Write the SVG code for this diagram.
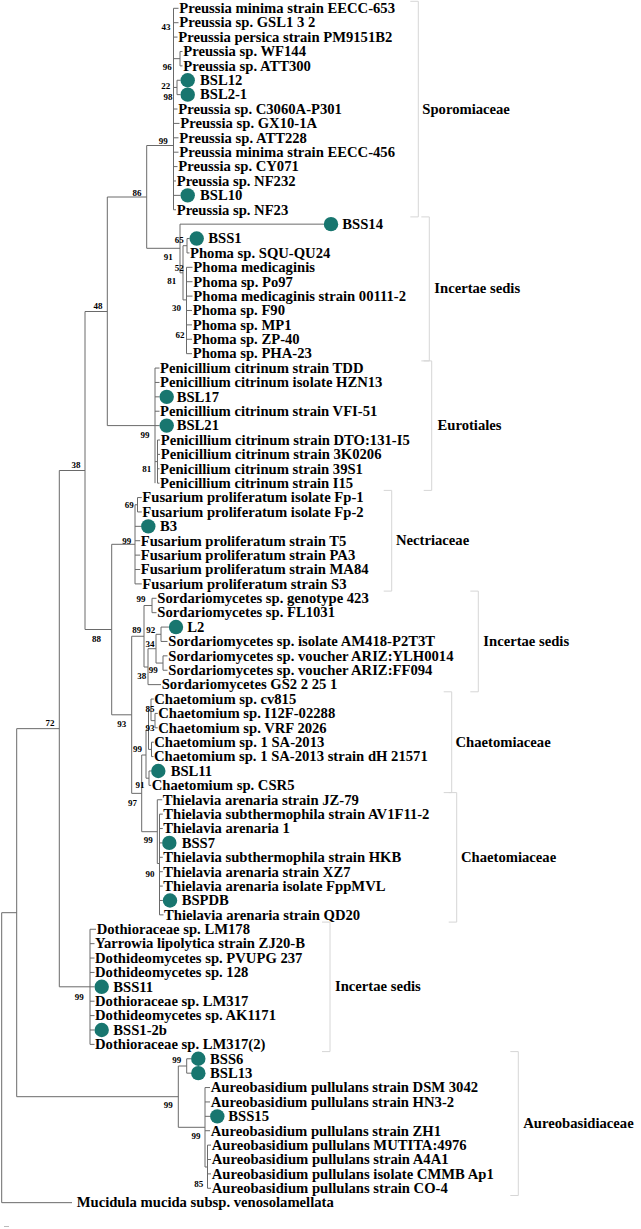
<svg xmlns="http://www.w3.org/2000/svg" width="641" height="1229" viewBox="0 0 641 1229">
<style>
.t{font-family:"Liberation Serif","Times New Roman",serif;font-weight:bold;font-size:14.65px;fill:#000}
.b{font-family:"Liberation Serif","Times New Roman",serif;font-weight:bold;font-size:9px;fill:#000;text-anchor:middle}
.tree{fill:none;stroke:#6a6a6a;stroke-width:1}
.br{fill:none;stroke:#d6d6d6;stroke-width:1}
.dot{fill:#18766f}
</style>
<rect width="641" height="1229" fill="#fff"/>
<g id="connectors" class="tree">
<path d="M1.7,912.7 V1202.67 H72 M1.7,912.7 H16.7 M16.7,728.65 V1096.7 M16.7,728.65 H59.3 M16.7,1096.7 H178.3 M59.3,470.5 V986.8 M59.3,470.5 H85 M59.3,986.8 H90 M85,311.5 V629.5 M85,311.5 H107.3 M85,629.5 H111.7 M107.3,197 V425.6 M107.3,197 H146.7 M107.3,425.6 H155 M146.7,145.5 V248.3 M146.7,145.5 H173.5 M146.7,248.3 H180"/>
<path d="M173.5,8.3 V209.76 M173.5,8.3 H178.5 M173.5,22.69 H178.5 M173.5,37.08 H177.5 M173.5,58.67 H180 M180,51.47 V65.86 M180,51.47 H182.5 M180,65.86 H182.5 M173.5,87.45 H177 M177,80.25 V94.64 M177,80.25 H180.5 M177,94.64 H180.5 M173.5,109.03 H177.5 M173.5,123.42 H179.5 M173.5,137.81 H178.5 M173.5,152.2 H178.5 M173.5,166.59 H177.5 M173.5,180.98 H176 M173.5,195.37 H180.5 M173.5,209.76 H176"/>
<path d="M180,224.15 V272.8 M180,224.15 H323.8 M180,272.8 H183 M183,245.7 V299.9 M183,245.7 H187 M187,238.54 V252.93 M187,238.54 H189.5 M187,252.93 H189.5 M183,299.9 H186.5 M186.5,267.32 V353.66 M186.5,267.32 H192.5 M186.5,281.71 H192.5 M186.5,296.1 H192.5 M186.5,310.49 H192 M186.5,324.88 H192 M186.5,339.27 H192 M186.5,353.66 H192"/>
<path d="M155,368.05 V483.17 M155,368.05 H159.5 M155,382.44 H159.5 M155,396.83 H159.5 M155,411.22 H159.5 M155,425.61 H159.5 M155,461.6 H157.5 M157.5,440 V483.17 M157.5,440 H160 M157.5,454.39 H160 M157.5,468.78 H159.5 M157.5,483.17 H159.5"/>
<path d="M111.7,544.3 V714.8 M111.7,544.3 H135 M135,504.75 V583.9 M135,504.75 H137.5 M137.5,497.56 V511.95 M137.5,497.56 H141.8 M137.5,511.95 H141.8 M135,526.34 H141.1 M135,540.73 H140.2 M135,555.12 H140.2 M135,569.51 H140.2 M135,583.9 H141.8"/>
<path d="M111.7,714.8 H131.7 M131.7,636.25 V793.35 M131.7,636.25 H144 M144,605.5 V667 M144,605.5 H152 M152,598.29 V612.68 M152,598.29 H156.5 M152,612.68 H156.5 M144,667 H148 M148,648.7 V684.63 M148,684.63 H161 M148,648.7 H156 M156,634.3 V663.05 M156,634.3 H161 M161,627.07 V641.46 M161,627.07 H168.8 M161,641.46 H167.5 M156,663.05 H163 M163,655.85 V670.24 M163,655.85 H167.5 M163,670.24 H167.5"/>
<path d="M131.7,793.35 H141.7 M141.7,755 V831.7 M141.7,755 H146 M146,730 V778.2 M146,730 H148.5 M148.5,709.8 V749.4 M148.5,709.8 H151 M151,699.02 V720.6 M151,699.02 H153.8 M151,720.6 H155 M155,713.41 V727.8 M155,713.41 H157.8 M155,727.8 H157.8 M148.5,749.4 H151.5 M151.5,742.19 V756.58 M151.5,742.19 H153.8 M151.5,756.58 H153.5 M146,778.2 H149 M149,770.97 V785.36 M149,770.97 H151.1 M149,785.36 H151.2"/>
<path d="M141.7,831.7 H157.3 M157.3,799.75 V863.5 M157.3,799.75 H162.2 M157.3,863.5 H159.5 M159.5,814.14 V914.87 M159.5,814.14 H162.8 M159.5,828.53 H162.8 M159.5,842.92 H162.1 M159.5,857.31 H162.8 M159.5,871.7 H162.8 M159.5,886.09 H162.8 M159.5,900.48 H162.8 M159.5,914.87 H163.5"/>
<path d="M90,929.26 V1044.38 M90,929.26 H96 M90,943.65 H94.5 M90,958.04 H94.5 M90,972.43 H94.5 M90,986.82 H94.5 M90,1001.21 H94.5 M90,1015.6 H94.5 M90,1029.99 H94.5 M90,1044.38 H94.5"/>
<path d="M178.3,1066 V1127.3 M178.3,1066 H186.7 M186.7,1058.77 V1073.16 M186.7,1058.77 H191.1 M186.7,1073.16 H191.1 M178.3,1127.3 H205 M205,1087.55 V1167 M205,1087.55 H210 M205,1101.94 H210 M205,1116.33 H210 M205,1130.72 H210 M205,1167 H207.5 M207.5,1145.11 V1188.28 M207.5,1145.11 H211 M207.5,1159.5 H211 M207.5,1173.89 H211 M207.5,1188.28 H211"/>
<path d="M4,1226.5 H9" stroke="#bbb"/>
</g>
<g id="bootstrap">
<text class="b" x="166" y="29.9">43</text>
<text class="b" x="167.3" y="69.9">96</text>
<text class="b" x="165.8" y="89.2">22</text>
<text class="b" x="168" y="99.8">98</text>
<text class="b" x="163.3" y="143.9">99</text>
<text class="b" x="137" y="196.2">86</text>
<text class="b" x="179.3" y="242.5">65</text>
<text class="b" x="168.3" y="259.9">91</text>
<text class="b" x="179.3" y="270.5">52</text>
<text class="b" x="171.7" y="283.9">81</text>
<text class="b" x="176.5" y="310.5">30</text>
<text class="b" x="180" y="338.2">62</text>
<text class="b" x="98" y="308.7">48</text>
<text class="b" x="145" y="438.2">99</text>
<text class="b" x="146.7" y="471.5">81</text>
<text class="b" x="76" y="467.7">38</text>
<text class="b" x="129.3" y="508.2">69</text>
<text class="b" x="126.7" y="543.9">99</text>
<text class="b" x="96.5" y="641.7">88</text>
<text class="b" x="141" y="601.5">99</text>
<text class="b" x="136.7" y="632.5">89</text>
<text class="b" x="150.7" y="632.5">92</text>
<text class="b" x="150" y="646.5">34</text>
<text class="b" x="153.3" y="673.2">99</text>
<text class="b" x="141.7" y="678.5">38</text>
<text class="b" x="150" y="711.5">85</text>
<text class="b" x="150" y="730.5">93</text>
<text class="b" x="121.7" y="726.5">93</text>
<text class="b" x="137.5" y="751.7">99</text>
<text class="b" x="140" y="788.2">91</text>
<text class="b" x="132.5" y="806.2">97</text>
<text class="b" x="148.3" y="843.2">99</text>
<text class="b" x="150" y="876.5">90</text>
<text class="b" x="50" y="726.2">72</text>
<text class="b" x="79.3" y="999.9">99</text>
<text class="b" x="176.7" y="1063.2">99</text>
<text class="b" x="168.3" y="1108.2">99</text>
<text class="b" x="196" y="1139.2">99</text>
<text class="b" x="198.7" y="1187.2">85</text>
</g>
<g id="n1"><text class="t" x="179.3" y="13.1">Preussia minima strain EECC-653</text></g>
<g id="n2"><text class="t" x="179.3" y="27.49">Preussia sp. GSL1 3 2</text></g>
<g id="n3"><text class="t" x="178.3" y="41.88">Preussia persica strain PM9151B2</text></g>
<g id="n4"><text class="t" x="183.3" y="56.27">Preussia sp. WF144</text></g>
<g id="n5"><text class="t" x="183.3" y="70.66">Preussia sp. ATT300</text></g>
<g id="n6"><circle class="dot" cx="187.7" cy="80.25" r="7.2"/><text class="t" x="200" y="85.05">BSL12</text></g>
<g id="n7"><circle class="dot" cx="187.7" cy="94.64" r="7.2"/><text class="t" x="200" y="99.44">BSL2-1</text></g>
<g id="n8"><text class="t" x="178.3" y="113.83">Preussia sp. C3060A-P301</text></g>
<g id="n9"><text class="t" x="180.3" y="128.22">Preussia sp. GX10-1A</text></g>
<g id="n10"><text class="t" x="179.3" y="142.61">Preussia sp. ATT228</text></g>
<g id="n11"><text class="t" x="179.3" y="157">Preussia minima strain EECC-456</text></g>
<g id="n12"><text class="t" x="178.3" y="171.39">Preussia sp. CY071</text></g>
<g id="n13"><text class="t" x="176.7" y="185.78">Preussia sp. NF232</text></g>
<g id="n14"><circle class="dot" cx="187.7" cy="195.37" r="7.2"/><text class="t" x="200" y="200.17">BSL10</text></g>
<g id="n15"><text class="t" x="176.7" y="214.56">Preussia sp. NF23</text></g>
<g id="n16"><circle class="dot" cx="331" cy="224.15" r="7.2"/><text class="t" x="342.3" y="228.95">BSS14</text></g>
<g id="n17"><circle class="dot" cx="196.7" cy="238.54" r="7.2"/><text class="t" x="208.3" y="243.34">BSS1</text></g>
<g id="n18"><text class="t" x="190" y="257.73">Phoma sp. SQU-QU24</text></g>
<g id="n19"><text class="t" x="193.3" y="272.12">Phoma medicaginis</text></g>
<g id="n20"><text class="t" x="193.3" y="286.51">Phoma sp. Po97</text></g>
<g id="n21"><text class="t" x="193.3" y="300.9">Phoma medicaginis strain 00111-2</text></g>
<g id="n22"><text class="t" x="192.7" y="315.29">Phoma sp. F90</text></g>
<g id="n23"><text class="t" x="192.7" y="329.68">Phoma sp. MP1</text></g>
<g id="n24"><text class="t" x="192.7" y="344.07">Phoma sp. ZP-40</text></g>
<g id="n25"><text class="t" x="192.7" y="358.46">Phoma sp. PHA-23</text></g>
<g id="n26"><text class="t" x="160" y="372.85">Penicillium citrinum strain TDD</text></g>
<g id="n27"><text class="t" x="160" y="387.24">Penicillium citrinum isolate HZN13</text></g>
<g id="n28"><circle class="dot" cx="166.7" cy="396.83" r="7.2"/><text class="t" x="176.7" y="401.63">BSL17</text></g>
<g id="n29"><text class="t" x="160" y="416.02">Penicillium citrinum strain VFI-51</text></g>
<g id="n30"><circle class="dot" cx="166.7" cy="425.61" r="7.2"/><text class="t" x="176.7" y="430.41">BSL21</text></g>
<g id="n31"><text class="t" x="160.7" y="444.8">Penicillium citrinum strain DTO:131-I5</text></g>
<g id="n32"><text class="t" x="160.7" y="459.19">Penicillium citrinum strain 3K0206</text></g>
<g id="n33"><text class="t" x="160" y="473.58">Penicillium citrinum strain 39S1</text></g>
<g id="n34"><text class="t" x="160" y="487.97">Penicillium citrinum strain I15</text></g>
<g id="n35"><text class="t" x="142.3" y="502.36">Fusarium proliferatum isolate Fp-1</text></g>
<g id="n36"><text class="t" x="142.3" y="516.75">Fusarium proliferatum isolate Fp-2</text></g>
<g id="n37"><circle class="dot" cx="148.3" cy="526.34" r="7.2"/><text class="t" x="160" y="531.14">B3</text></g>
<g id="n38"><text class="t" x="140.7" y="545.53">Fusarium proliferatum strain T5</text></g>
<g id="n39"><text class="t" x="140.7" y="559.92">Fusarium proliferatum strain PA3</text></g>
<g id="n40"><text class="t" x="140.7" y="574.31">Fusarium proliferatum strain MA84</text></g>
<g id="n41"><text class="t" x="142.3" y="588.7">Fusarium proliferatum strain S3</text></g>
<g id="n42"><text class="t" x="157.3" y="603.09">Sordariomycetes sp. genotype 423</text></g>
<g id="n43"><text class="t" x="157.3" y="617.48">Sordariomycetes sp. FL1031</text></g>
<g id="n44"><circle class="dot" cx="176" cy="627.07" r="7.2"/><text class="t" x="187.3" y="631.87">L2</text></g>
<g id="n45"><text class="t" x="168.3" y="646.26">Sordariomycetes sp. isolate AM418-P2T3T</text></g>
<g id="n46"><text class="t" x="168.3" y="660.65">Sordariomycetes sp. voucher ARIZ:YLH0014</text></g>
<g id="n47"><text class="t" x="168.3" y="675.04">Sordariomycetes sp. voucher ARIZ:FF094</text></g>
<g id="n48"><text class="t" x="161.7" y="689.43">Sordariomycetes GS2 2 25 1</text></g>
<g id="n49"><text class="t" x="154.3" y="703.82">Chaetomium sp. cv815</text></g>
<g id="n50"><text class="t" x="158.3" y="718.21">Chaetomium sp. I12F-02288</text></g>
<g id="n51"><text class="t" x="158.3" y="732.6">Chaetomium sp. VRF 2026</text></g>
<g id="n52"><text class="t" x="154.3" y="746.99">Chaetomium sp. 1 SA-2013</text></g>
<g id="n53"><text class="t" x="154" y="761.38">Chaetomium sp. 1 SA-2013 strain dH 21571</text></g>
<g id="n54"><circle class="dot" cx="158.3" cy="770.97" r="7.2"/><text class="t" x="170.7" y="775.77">BSL11</text></g>
<g id="n55"><text class="t" x="151.7" y="790.16">Chaetomium sp. CSR5</text></g>
<g id="n56"><text class="t" x="162.7" y="804.55">Thielavia arenaria strain JZ-79</text></g>
<g id="n57"><text class="t" x="163.3" y="818.94">Thielavia subthermophila strain AV1F11-2</text></g>
<g id="n58"><text class="t" x="163.3" y="833.33">Thielavia arenaria 1</text></g>
<g id="n59"><circle class="dot" cx="169.3" cy="842.92" r="7.2"/><text class="t" x="181.7" y="847.72">BSS7</text></g>
<g id="n60"><text class="t" x="163.3" y="862.11">Thielavia subthermophila strain HKB</text></g>
<g id="n61"><text class="t" x="163.3" y="876.5">Thielavia arenaria strain XZ7</text></g>
<g id="n62"><text class="t" x="163.3" y="890.89">Thielavia arenaria isolate FppMVL</text></g>
<g id="n63"><circle class="dot" cx="170" cy="900.48" r="7.2"/><text class="t" x="181.7" y="905.28">BSPDB</text></g>
<g id="n64"><text class="t" x="164" y="919.67">Thielavia arenaria strain QD20</text></g>
<g id="n65"><text class="t" x="96.7" y="934.06">Dothioraceae sp. LM178</text></g>
<g id="n66"><text class="t" x="95" y="948.45">Yarrowia lipolytica strain ZJ20-B</text></g>
<g id="n67"><text class="t" x="95" y="962.84">Dothideomycetes sp. PVUPG 237</text></g>
<g id="n68"><text class="t" x="95" y="977.23">Dothideomycetes sp. 128</text></g>
<g id="n69"><circle class="dot" cx="101.7" cy="986.82" r="7.2"/><text class="t" x="113.3" y="991.62">BSS11</text></g>
<g id="n70"><text class="t" x="95" y="1006.01">Dothioraceae sp. LM317</text></g>
<g id="n71"><text class="t" x="95" y="1020.4">Dothideomycetes sp. AK1171</text></g>
<g id="n72"><circle class="dot" cx="101.7" cy="1029.99" r="7.2"/><text class="t" x="113.3" y="1034.79">BSS1-2b</text></g>
<g id="n73"><text class="t" x="95" y="1049.18">Dothioraceae sp. LM317(2)</text></g>
<g id="n74"><circle class="dot" cx="198.3" cy="1058.77" r="7.2"/><text class="t" x="210" y="1063.57">BSS6</text></g>
<g id="n75"><circle class="dot" cx="198.3" cy="1073.16" r="7.2"/><text class="t" x="210" y="1077.96">BSL13</text></g>
<g id="n76"><text class="t" x="210.7" y="1092.35">Aureobasidium pullulans strain DSM 3042</text></g>
<g id="n77"><text class="t" x="210.7" y="1106.74">Aureobasidium pullulans strain HN3-2</text></g>
<g id="n78"><circle class="dot" cx="217.3" cy="1116.33" r="7.2"/><text class="t" x="228.3" y="1121.13">BSS15</text></g>
<g id="n79"><text class="t" x="210.7" y="1135.52">Aureobasidium pullulans strain ZH1</text></g>
<g id="n80"><text class="t" x="211.7" y="1149.91">Aureobasidium pullulans MUTITA:4976</text></g>
<g id="n81"><text class="t" x="211.7" y="1164.3">Aureobasidium pullulans strain A4A1</text></g>
<g id="n82"><text class="t" x="211.7" y="1178.69">Aureobasidium pullulans isolate CMMB Ap1</text></g>
<g id="n83"><text class="t" x="211.7" y="1193.08">Aureobasidium pullulans strain CO-4</text></g>
<g id="n84"><text class="t" x="76.7" y="1207.47">Mucidula mucida subsp. venosolamellata</text></g>
<g id="grp-sporomiaceae"><path class="br" d="M410.3,1.3 H418.3 V216.9 H410.3"/><text class="t" x="422.3" y="113.6">Sporomiaceae</text></g>
<g id="grp-incertae1"><path class="br" d="M421.3,216.9 H429.3 V360.9 H421.3"/><text class="t" x="434.3" y="293.4">Incertae sedis</text></g>
<g id="grp-eurotiales"><path class="br" d="M423.7,360.9 H431.7 V490.4 H423.7"/><text class="t" x="437.5" y="430.2">Eurotiales</text></g>
<g id="grp-nectriaceae"><path class="br" d="M383.7,490.4 H391.7 V591.1 H383.7"/><text class="t" x="396" y="545.3">Nectriaceae</text></g>
<g id="grp-incertae2"><path class="br" d="M470.3,591.1 H478.3 V691.8 H470.3"/><text class="t" x="483.3" y="646">Incertae sedis</text></g>
<g id="grp-chaetomiaceae1"><path class="br" d="M443.7,691.8 H451.7 V792.6 H443.7"/><text class="t" x="455.5" y="746.7">Chaetomiaceae</text></g>
<g id="grp-chaetomiaceae2"><path class="br" d="M448.7,792.6 H456.7 V922.1 H448.7"/><text class="t" x="461" y="861.8">Chaetomiaceae</text></g>
<g id="grp-incertae3"><path class="br" d="M322,922.1 H330 V1051.6 H322"/><text class="t" x="335" y="991.4">Incertae sedis</text></g>
<g id="grp-aureobasidiaceae"><path class="br" d="M510.3,1051.6 H518.3 V1195.5 H510.3"/><text class="t" x="523.3" y="1128">Aureobasidiaceae</text></g>
</svg>
